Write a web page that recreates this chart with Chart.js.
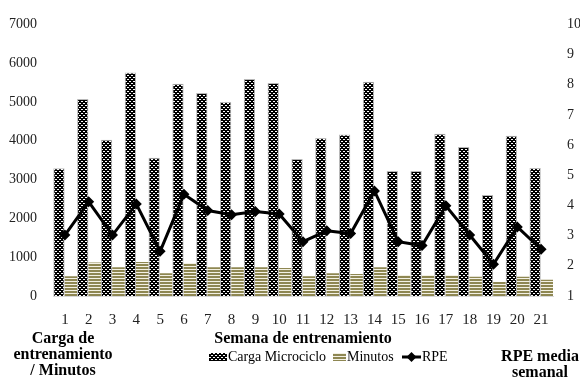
<!DOCTYPE html>
<html>
<head>
<meta charset="utf-8">
<script src="https://cdn.jsdelivr.net/npm/chart.js@4"></script>
<style>
  html, body { margin: 0; padding: 0; background: #ffffff; }
  #wrap { width: 580px; height: 378px; position: relative; }
</style>
</head>
<body>
<div id="wrap"><canvas id="chart" width="580" height="378"></canvas></div>
<script>
// Weekly training data
const semanas = ['1','2','3','4','5','6','7','8','9','10','11','12','13','14','15','16','17','18','19','20','21'];
const cargaMicrociclo = [3290, 5080, 4030, 5760, 3560, 5470, 5230, 5000, 5590, 5490, 3530, 4070, 4160, 5520, 3220, 3220, 4180, 3840, 2600, 4130, 3300];
const minutos = [500, 855, 730, 870, 575, 840, 730, 730, 730, 710, 500, 575, 560, 730, 535, 535, 535, 490, 350, 490, 410];
const rpe = [3.02, 4.12, 3.02, 4.05, 2.48, 4.37, 3.83, 3.69, 3.80, 3.72, 2.80, 3.16, 3.07, 4.48, 2.80, 2.67, 3.99, 3.02, 2.05, 3.29, 2.55];

// Axis ranges
const cargaEje = { min: 0, max: 7000, step: 1000 };
const rpeEje = { min: 1, max: 10, step: 1 };

// Titles and legend labels
const tituloX = 'Semana de entrenamiento';
const tituloIzq = ['Carga de', 'entrenamiento', '/ Minutos'];
const tituloDer = ['RPE media', 'semanal'];
const nombres = ['Carga Microciclo', 'Minutos', 'RPE'];

const SERIF = '"Liberation Serif", "Times New Roman", serif';

function makePattern(w, h, paint) {
  const c = document.createElement('canvas');
  c.width = w; c.height = h;
  const g = c.getContext('2d');
  paint(g);
  return g.createPattern(c, 'repeat');
}

// Dotted black fill
const cargaFill = makePattern(4, 4, g => {
  g.fillStyle = '#000'; g.fillRect(0, 0, 4, 4);
  g.fillStyle = '#ffffff';
  g.fillRect(1, 1, 2, 1);
  g.fillRect(3, 3, 1, 1);
  g.fillRect(0, 3, 1, 1);
});

// Horizontal olive stripes
const minutosFill = makePattern(4, 3, g => {
  g.fillStyle = '#8e8752'; g.fillRect(0, 0, 4, 2);
  g.fillStyle = '#f3f1e4'; g.fillRect(0, 2, 4, 1);
});

// Axis titles and legend
const extras = {
  id: 'extras',
  afterDraw(chart) {
    const ctx = chart.ctx;
    ctx.save();
    ctx.fillStyle = '#000';
    ctx.textAlign = 'center';
    ctx.textBaseline = 'alphabetic';
    ctx.font = 'bold 16px ' + SERIF;
    const izqBase = [343, 359, 375];
    tituloIzq.forEach((t, i) => ctx.fillText(t, 63, izqBase[i]));
    const derBase = [361, 377];
    tituloDer.forEach((t, i) => ctx.fillText(t, 540, derBase[i]));

    // legend
    const ly = 357;
    ctx.font = '14px ' + SERIF;
    ctx.textAlign = 'left';
    ctx.textBaseline = 'middle';
    ctx.fillStyle = cargaFill;
    ctx.fillRect(209, ly - 4, 18, 8);
    ctx.fillStyle = '#000';
    ctx.fillText(nombres[0], 228, ly);
    ctx.fillStyle = minutosFill;
    ctx.fillRect(333, ly - 4, 13, 8);
    ctx.fillStyle = '#000';
    ctx.fillText(nombres[1], 347, ly);
    ctx.strokeStyle = '#000';
    ctx.lineWidth = 3;
    ctx.beginPath(); ctx.moveTo(402, ly); ctx.lineTo(421, ly); ctx.stroke();
    ctx.beginPath();
    ctx.moveTo(411.5, ly - 5); ctx.lineTo(416.5, ly); ctx.lineTo(411.5, ly + 5); ctx.lineTo(406.5, ly);
    ctx.closePath(); ctx.fill();
    ctx.fillText(nombres[2], 422, ly);
    ctx.restore();
  }
};

const tickFont = { family: SERIF, size: 14 };
const plain = v => String(v);

new Chart(document.getElementById('chart'), {
  data: {
    labels: semanas,
    datasets: [
      {
        type: 'line', label: nombres[2], data: rpe, yAxisID: 'y1', order: 0,
        borderColor: '#000', borderWidth: 3, tension: 0,
        pointStyle: 'rectRot', pointRadius: 5.5, pointBackgroundColor: '#000', pointBorderWidth: 0
      },
      {
        type: 'bar', label: nombres[0], data: cargaMicrociclo, yAxisID: 'y', order: 1,
        backgroundColor: cargaFill, borderColor: '#b8b8b8', borderWidth: 1,
        categoryPercentage: 1, barPercentage: 0.95
      },
      {
        type: 'bar', label: nombres[1], data: minutos, yAxisID: 'y', order: 1,
        backgroundColor: minutosFill, borderWidth: 0,
        categoryPercentage: 1, barPercentage: 1
      }
    ]
  },
  options: {
    responsive: false,
    animation: false,
    devicePixelRatio: 1,
    layout: { padding: { top: 18, left: 0, right: 0, bottom: 0 } },
    plugins: { legend: { display: false }, tooltip: { enabled: false } },
    scales: {
      x: {
        type: 'category', offset: true,
        grid: { display: false, drawTicks: false },
        border: { display: true, color: '#d9d9d9', width: 1 },
        ticks: { font: { family: SERIF, size: 15 }, color: '#222', padding: 15, maxRotation: 0, autoSkip: false },
        title: { display: true, text: tituloX, color: '#000', font: { family: SERIF, size: 16, weight: 'bold' }, padding: { top: 0, bottom: 30 } },
        afterFit: s => { s.height = 82; }
      },
      y: {
        position: 'left', min: cargaEje.min, max: cargaEje.max,
        grid: { display: false, drawTicks: false },
        border: { display: false },
        ticks: { stepSize: cargaEje.step, font: tickFont, color: '#222', padding: 16, callback: plain },
        afterFit: s => { s.width = 53; }
      },
      y1: {
        position: 'right', min: rpeEje.min, max: rpeEje.max,
        grid: { display: false, drawTicks: false },
        border: { display: false },
        ticks: { stepSize: rpeEje.step, font: tickFont, color: '#222', padding: 14, callback: plain },
        afterFit: s => { s.width = 27; }
      }
    }
  },
  plugins: [extras]
});
</script>
</body>
</html>
